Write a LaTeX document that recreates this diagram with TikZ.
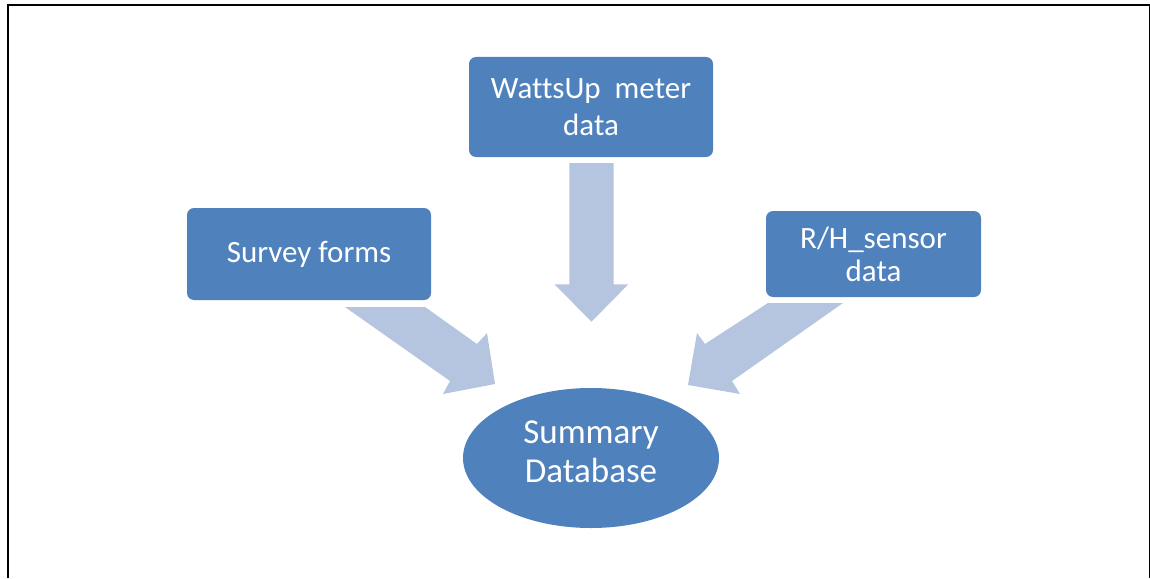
\documentclass[tikz,border=0pt]{standalone}
\usepackage{xcolor}
\usepackage{fontspec}
\setmainfont{Carlito}[Ligatures=NoCommon]
\usepackage{tikz}
\usetikzlibrary{positioning,shapes,calc}
\definecolor{boxblue}{RGB}{79, 129, 189}
\definecolor{arrowblue}{RGB}{181, 196, 223}

\begin{document}
\begin{tikzpicture}[x=1pt, y=-1pt]
        \useasboundingbox (0,0) rectangle (1150,578);
        \draw[line width=1.6pt] (8,578) -- (8,5) -- (1150,5);
        \draw[line width=1pt] (1149.3,5) -- (1149.3,578);

        \node[ellipse, fill=boxblue, minimum width=256pt, minimum height=140pt, inner sep=0pt, text depth=12pt, align=center, text=white, font=\fontsize{35}{39}\selectfont] (db) at (591,458) {Summary\\Database};
        \node[rectangle, rounded corners=7pt, fill=boxblue, minimum width=244pt, minimum height=92pt, inner sep=0pt, align=center, text=white, font=\fontsize{31}{37}\selectfont] (survey) at (309,254) {Survey forms};
        \node[rectangle, rounded corners=7pt, fill=boxblue, minimum width=244pt, minimum height=100pt, inner sep=0pt, align=center, text=white, font=\fontsize{31}{37}\selectfont] (watts) at (591,107) {WattsUp\ \ meter\\data};
        \node[rectangle, rounded corners=7pt, fill=boxblue, minimum width=215pt, minimum height=86pt, inner sep=0pt, align=center, text=white, font=\fontsize{31}{33}\selectfont] (rh) at (873.5,254) {R/H\_sensor\\data};

        % block arrows into the database
        \fill[arrowblue] (345,307) -- (425,307) -- (477,344) -- (487,333) -- (495,384) -- (443,394) -- (450,381) -- cycle;
        \fill[arrowblue] (569.3,163) -- (613.7,163) -- (613.7,284.3) -- (628.3,284.3) -- (591.5,321.7) -- (554.5,284.3) -- (569.3,284.3) -- cycle;
        \fill[arrowblue] (843,303) -- (768,303) -- (705,344) -- (697,333) -- (688,385) -- (740,394) -- (732,381) -- cycle;
    \end{tikzpicture}
\end{document}
